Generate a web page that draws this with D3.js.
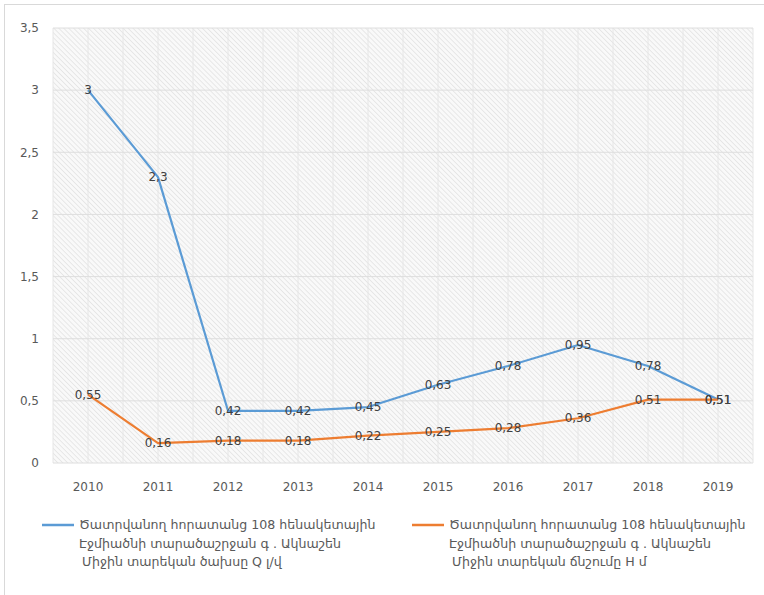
<!DOCTYPE html>
<html>
<head>
<meta charset="utf-8">
<script src="https://cdn.jsdelivr.net/npm/d3@7"></script>
<style>
  body { margin: 0; background: #fff; }
  svg text { font-family: "DejaVu Sans", "Noto Sans", sans-serif; }
</style>
</head>
<body>
<div id="chart"></div>
<script>
// Data
const years = ['2010', '2011', '2012', '2013', '2014', '2015', '2016', '2017', '2018', '2019'];
const flowValues = [3, 2.3, 0.42, 0.42, 0.45, 0.63, 0.78, 0.95, 0.78, 0.51];
const pressureValues = [0.55, 0.16, 0.18, 0.18, 0.22, 0.25, 0.28, 0.36, 0.51, 0.51];
const yTicks = [0, 0.5, 1, 1.5, 2, 2.5, 3, 3.5];
const seriesNames = [
    ['Ծատրվանող հորատանց 108  հենակետային', 'Էջմիածնի տարածաշրջան գ . Ակնաշեն', 'Միջին տարեկան ծախսը Q լ/վ'],
    ['Ծատրվանող հորատանց 108  հենակետային', 'Էջմիածնի տարածաշրջան գ . Ակնաշեն', 'Միջին տարեկան ճնշումը H մ']
];
const seriesColors = ['#5b9bd5', '#ed7d31'];

const width = 764, height = 595;
const margin = { top: 28, right: 11, bottom: 132, left: 53 };
const plotW = width - margin.left - margin.right;
const plotH = height - margin.top - margin.bottom;

const fmt = v => String(v).replace('.', ',');

const svg = d3.select('#chart').append('svg')
    .attr('width', width)
    .attr('height', height);

// Outer chart border (top and left visible)
svg.append('rect')
    .attr('x', 4.5).attr('y', 4.5)
    .attr('width', width + 20).attr('height', height + 20)
    .attr('fill', 'none')
    .attr('stroke', '#d9d9d9');

// Hatched plot background
const defs = svg.append('defs');
const pat = defs.append('pattern')
    .attr('id', 'hatch')
    .attr('patternUnits', 'userSpaceOnUse')
    .attr('width', 3.5).attr('height', 3.5)
    .attr('patternTransform', 'rotate(-45)');
pat.append('rect').attr('width', 3.5).attr('height', 3.5).attr('fill', '#f9f9f9');
pat.append('line')
    .attr('x1', 0).attr('y1', 0).attr('x2', 0).attr('y2', 3.5)
    .attr('stroke', '#d9d9d9').attr('stroke-width', 1.1);

const g = svg.append('g').attr('transform', `translate(${margin.left},${margin.top})`);

const x = d3.scaleBand().domain(years).range([0, plotW]).padding(0);
const y = d3.scaleLinear().domain([0, 3.5]).range([plotH, 0]);
const cx = d => x(d) + x.bandwidth() / 2;

g.append('rect')
    .attr('width', plotW).attr('height', plotH)
    .attr('fill', 'url(#hatch)');

// Vertical gridlines: at category centers and boundaries
const vLines = [];
years.forEach(d => { vLines.push(x(d)); vLines.push(cx(d)); });
vLines.push(plotW);
g.selectAll('.vgrid')
    .data(vLines)
    .join('line')
    .attr('class', 'vgrid')
    .attr('x1', d => d).attr('x2', d => d)
    .attr('y1', 0).attr('y2', plotH)
    .attr('stroke', '#e6e6e6')
    .attr('stroke-width', 1);

// Horizontal gridlines
g.selectAll('.hgrid')
    .data(yTicks)
    .join('line')
    .attr('class', 'hgrid')
    .attr('x1', 0).attr('x2', plotW)
    .attr('y1', d => y(d)).attr('y2', d => y(d))
    .attr('stroke', '#dedede')
    .attr('stroke-width', 1);

// Y axis labels
const yAxis = d3.axisLeft(y).tickValues(yTicks).tickFormat(fmt).tickSize(0).tickPadding(14);
const ya = g.append('g').call(yAxis);
ya.select('.domain').remove();
ya.selectAll('text')
    .attr('fill', '#595959')
    .style('font-size', '12px');

// X axis labels
const xAxis = d3.axisBottom(x).tickSize(0).tickPadding(19);
const xa = g.append('g').attr('transform', `translate(0,${plotH})`).call(xAxis);
xa.select('.domain').remove();
xa.selectAll('text')
    .attr('fill', '#595959')
    .style('font-size', '12px');

// Lines
const series = [flowValues, pressureValues];
const line = d3.line()
    .x((d, i) => cx(years[i]))
    .y(d => y(d));

series.forEach((vals, si) => {
    g.append('path')
        .datum(vals)
        .attr('fill', 'none')
        .attr('stroke', seriesColors[si])
        .attr('stroke-width', 2.2)
        .attr('stroke-linejoin', 'round')
        .attr('d', line);
});

// Data labels, centered on the points
series.forEach((vals, si) => {
    g.selectAll(`.lbl${si}`)
        .data(vals)
        .join('text')
        .attr('class', `lbl${si}`)
        .attr('x', (d, i) => cx(years[i]))
        .attr('y', d => y(d))
        .attr('dy', '0.35em')
        .attr('text-anchor', 'middle')
        .attr('fill', '#404040')
        .style('font-size', '12px')
        .text(fmt);
});

// Legend
const legendX = [42, 412];
const legend = svg.append('g').attr('transform', `translate(0,${525})`);
seriesNames.forEach((lines, si) => {
    const lg = legend.append('g').attr('transform', `translate(${legendX[si]},0)`);
    lg.append('line')
        .attr('x1', 0).attr('x2', 32)
        .attr('y1', 0).attr('y2', 0)
        .attr('stroke', seriesColors[si])
        .attr('stroke-width', 2.5);
    lg.selectAll('text')
        .data(lines)
        .join('text')
        .attr('x', (d, i) => i === 2 ? 40 : 37)
        .attr('y', (d, i) => i * 18.5)
        .attr('dy', '0.35em')
        .attr('fill', '#595959')
        .style('font-size', '12.6px')
        .text(d => d);
});
</script>
</body>
</html>
